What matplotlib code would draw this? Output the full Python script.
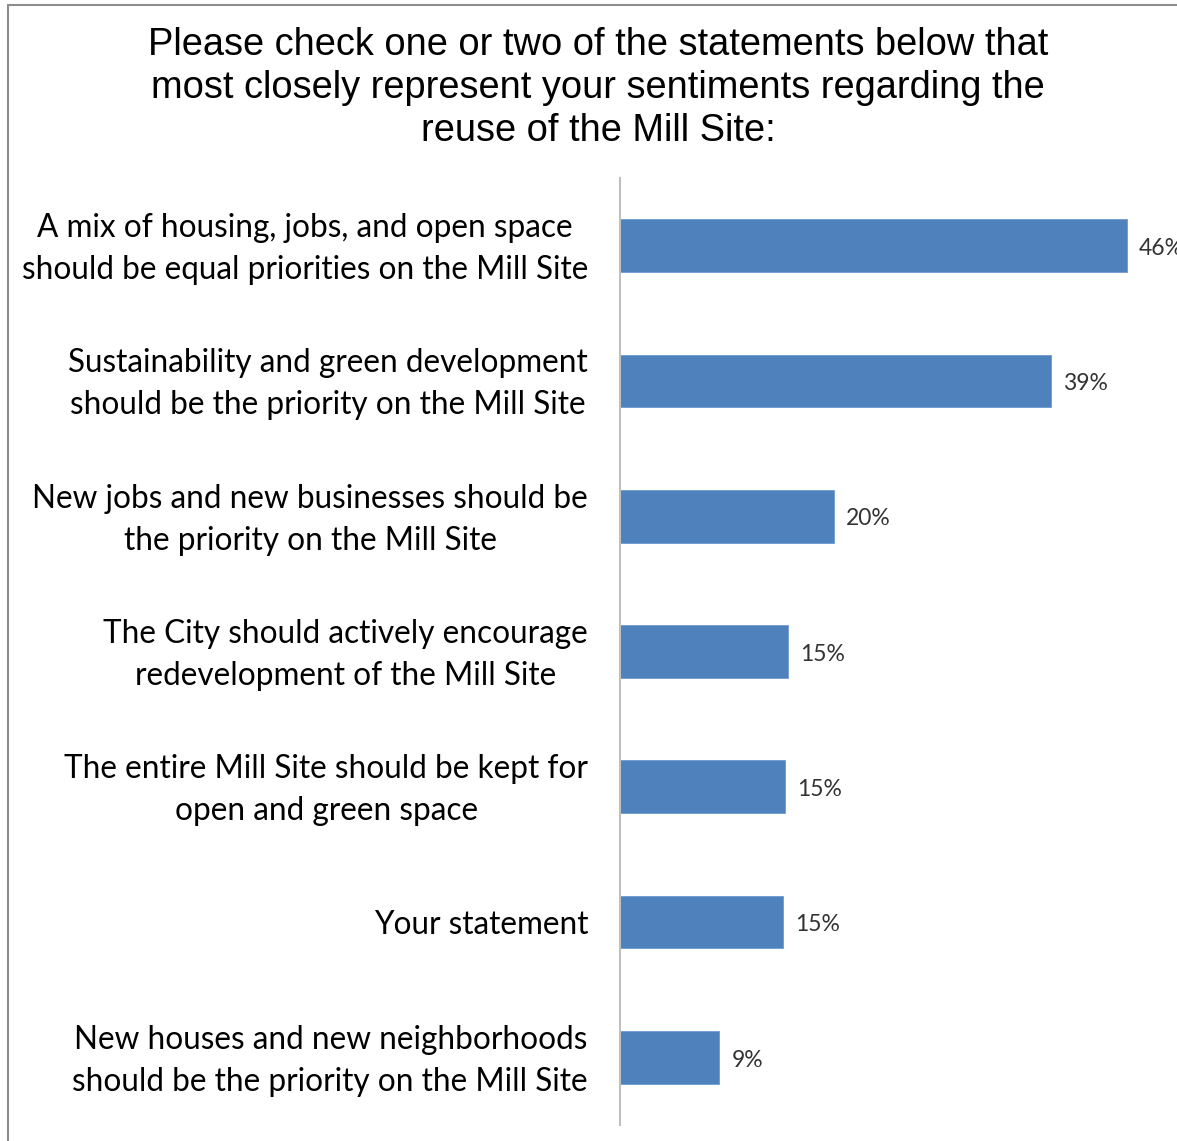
import matplotlib.pyplot as plt
from matplotlib.patches import Rectangle
from matplotlib.transforms import ScaledTranslation

title = ("Please check one or two of the statements below that\n"
         "most closely represent your sentiments regarding the\n"
         "reuse of the Mill Site:")

statements = [
    "A mix of housing, jobs, and open space\nshould be equal priorities on the Mill Site",
    "Sustainability and green development\nshould be the priority on the Mill Site",
    "New jobs and new businesses should be\nthe priority on the Mill Site",
    "The City should actively encourage\nredevelopment of the Mill Site",
    "The entire Mill Site should be kept for\nopen and green space",
    "Your statement",
    "New houses and new neighborhoods\nshould be the priority on the Mill Site",
]
values = [46.0, 39.1, 19.4, 15.2, 15.0, 14.8, 9.0]
value_labels = ["46%", "39%", "20%", "15%", "15%", "15%", "9%"]

bar_color = "#4F81BD"
label_font = "Lato"

fig = plt.figure(figsize=(11.77, 11.41), dpi=100)
ax = fig.add_axes([620/1177, 16/1141, 551/1177, 947/1141])

pos = list(range(len(statements)))
ax.barh(pos, values, height=0.39, color=bar_color, edgecolor="#6F9AD0", linewidth=0.6)
ax.set_xlim(0, 50)
ax.set_ylim(6.5, -0.5)

for p, v, lab in zip(pos, values, value_labels):
    ax.text(v + 1.1, p + 0.02, lab, va="center", ha="left", fontsize=16.5,
            family=label_font, color="#333333", clip_on=False)

ax.set_yticks(pos)
ax.set_yticklabels(statements, fontsize=22.7, family=label_font,
                   multialignment="center", linespacing=1.5)
ax.tick_params(axis="y", length=0, pad=23)
# two-line labels sit a little low, nudge them up
for t in ax.get_yticklabels():
    if "\n" in t.get_text():
        t.set_transform(t.get_transform() + ScaledTranslation(0, 0.055, fig.dpi_scale_trans))
ax.set_xticks([])
for s in ["top", "right", "bottom"]:
    ax.spines[s].set_visible(False)
ax.spines["left"].set_color("#BFBFBF")
ax.spines["left"].set_linewidth(1.5)

fig.text(598/1177, 1 - 88/1141, title, ha="center", va="center", fontsize=27.4,
         family="Liberation Sans", linespacing=1.26)

# outer frame of the original chart (only left and top edges visible)
fig.add_artist(Rectangle((8/1177, -0.1), 1.2, 1 - 5/1141 + 0.1, fill=False,
                         edgecolor="#8C8C8C", linewidth=1.5,
                         transform=fig.transFigure))

fig.savefig("out.png", dpi=100)
